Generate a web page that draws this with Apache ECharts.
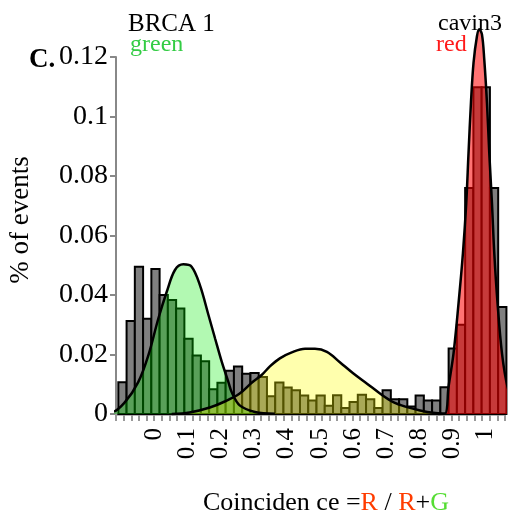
<!DOCTYPE html>
<html>
<head>
<meta charset="utf-8">
<script src="https://cdn.jsdelivr.net/npm/echarts@6/dist/echarts.min.js"></script>
<style>
  html, body {margin: 0; padding: 0; background: #fff}
  #chart {width: 530px; height: 519px}
</style>
</head>
<body>
<div id="chart"></div>
<script>
// histogram of all events, bin width 0.025 starting at -0.108
const binStart = -0.108
const binWidth = 0.0249
const binHeights = [
  0.0107, 0.0313, 0.0495, 0.032, 0.0487, 0.040, 0.0383, 0.0355, 0.0253, 0.0197,
  0.0177, 0.0083, 0.0105, 0.0145, 0.016, 0.0135, 0.0138, 0.0124, 0.006, 0.0106,
  0.0089, 0.008, 0.0062, 0.0045, 0.0062, 0.0028, 0.0063, 0.002, 0.004, 0.0065,
  0.005, 0.002, 0.008, 0.005, 0.005, 0.0025, 0.0062, 0.0045, 0.0045, 0.009,
  0.022, 0.030, 0.076, 0.1098, 0.1098, 0.076, 0.036,
]

// fitted curves (BRCA 1 / green, mixed / yellow, cavin3 / red)
const greenX = [-0.201, -0.128, -0.088, -0.048, -0.0175, 0.0127, 0.0378, 0.0628, 0.088, 0.113,
  0.138, 0.164, 0.184, 0.204, 0.224, 0.234, 0.258, 0.304, 0.364]
const greenY = [0.0002, 0.0006, 0.004, 0.0107, 0.0197, 0.0321, 0.041, 0.0484, 0.0503, 0.0495,
  0.0433, 0.0332, 0.0253, 0.0175, 0.0107, 0.0073, 0.0029, 0.0007, 0.0001]

const yellowX = [0.053, 0.107, 0.168, 0.213, 0.258, 0.295, 0.325, 0.349, 0.379, 0.415, 0.455,
  0.485, 0.521, 0.56, 0.6, 0.642, 0.681, 0.721, 0.763, 0.802, 0.841, 0.877]
const yellowY = [0, 0.0005, 0.0022, 0.0042, 0.0069, 0.0106, 0.0132, 0.016, 0.0187, 0.0207, 0.0219,
  0.0219, 0.0209, 0.0174, 0.0137, 0.0102, 0.0069, 0.004, 0.0023, 0.0012, 0.0004, 0.0001]

const redX = [0.8565, 0.8776, 0.8876, 0.9027, 0.9178, 0.9311, 0.9411, 0.948, 0.9553, 0.9631, 0.9734,
  0.9804, 0.9885, 0.9955, 1.0036, 1.0106, 1.0187, 1.0257, 1.0356, 1.049, 1.0659, 1.0891, 1.1245]
const redY = [0, 0.0001, 0.009, 0.0203, 0.0371, 0.054, 0.0708, 0.0877, 0.1046, 0.118, 0.127,
  0.1293, 0.1276, 0.1191, 0.1046, 0.0877, 0.0708, 0.054, 0.0371, 0.0203, 0.009, 0.0023, 0.0002]

const xLabels = [0, 0.1, 0.2, 0.3, 0.4, 0.5, 0.6, 0.7, 0.8, 0.9, 1]
// small ticks under the x axis, every 0.023
const xMin = -0.115
const xMax = 1.058
const tickStep = 0.023
const xTicks = Array.from({length: 52}, (_, i) => +(xMin + i * tickStep).toFixed(4))

const serif = 'Liberation Serif'
const chart = echarts.init(document.getElementById('chart'))

const bars = binHeights.map((h, i) => [binStart + i * binWidth, binStart + (i + 1) * binWidth, h])
const zip = (xs, ys) => xs.map((x, i) => [x, ys[i]])

const curve = (xs, ys, fill) => ({
  type: 'line',
  data: zip(xs, ys),
  smooth: 0.35,
  showSymbol: false,
  clip: false,
  lineStyle: {color: '#000', width: 2.5},
  areaStyle: {color: fill, opacity: 1},
  silent: true,
})

const txt = (size, color) => ({fontFamily: serif, fontSize: size, fontWeight: 'normal', color})

const option = {
  animation: false,
  title: [
    {text: 'C.', left: 24, top: 42, textStyle: {...txt(27, '#000'), fontWeight: 'bold'}},
    {text: 'BRCA 1', left: 123, top: 7, textStyle: txt(25, '#000')},
    {text: 'green', left: 125, top: 28, textStyle: txt(24, '#33cc44')},
    {text: 'cavin3', left: 433, top: 7, textStyle: txt(24, '#000')},
    {text: 'red', left: 431, top: 28, textStyle: txt(24, '#ff1a1a')},
    {
      text: '{a|Coinciden ce =}{r|R}{a| / }{r|R}{a|+}{g|G}',
      left: 198,
      top: 485,
      textStyle: {
        rich: {
          a: txt(26, '#000'),
          r: txt(26, '#ff3c00'),
          g: txt(26, '#55dd33'),
        },
      },
    },
  ],
  graphic: [
    {
      type: 'text',
      x: 21,
      y: 220,
      rotation: Math.PI / 2,
      style: {text: '% of events', font: `27px "${serif}"`, fill: '#000', align: 'center', verticalAlign: 'middle'},
    },
  ],
  grid: {left: 116, right: 25, top: 57, bottom: 105},
  xAxis: {
    type: 'value',
    min: xMin,
    max: xMax,
    splitLine: {show: false},
    axisLine: {show: true, onZero: false, lineStyle: {color: '#999', width: 2.5}},
    axisTick: {show: true, customValues: xTicks, length: 7, lineStyle: {color: '#999', width: 2}},
    axisLabel: {
      customValues: xLabels,
      rotate: 90,
      margin: 14,
      fontFamily: serif,
      fontSize: 25,
      color: '#000',
    },
  },
  yAxis: {
    type: 'value',
    min: 0,
    max: 0.12,
    interval: 0.02,
    splitLine: {show: false},
    axisLine: {show: true, onZero: false, lineStyle: {color: '#888', width: 2}},
    axisTick: {show: true, length: 6, lineStyle: {color: '#888', width: 2}},
    axisLabel: {margin: 8, fontFamily: serif, fontSize: 28, color: '#000'},
  },
  series: [
    {
      type: 'custom',
      data: bars,
      encode: {x: [0, 1], y: 2},
      renderItem: (params, api) => {
        const top = api.coord([api.value(0), api.value(2)])
        const base = api.coord([api.value(1), 0])
        return {
          type: 'rect',
          shape: {x: top[0], y: top[1], width: base[0] - top[0], height: base[1] - top[1]},
          style: {fill: '#808080', stroke: '#000', lineWidth: 2},
        }
      },
    },
    curve(greenX, greenY, 'rgba(0,235,0,0.3)'),
    curve(yellowX, yellowY, 'rgba(255,255,0,0.32)'),
    curve(redX, redY, 'rgba(255,0,0,0.55)'),
  ],
}

chart.setOption(option)
</script>
</body>
</html>
